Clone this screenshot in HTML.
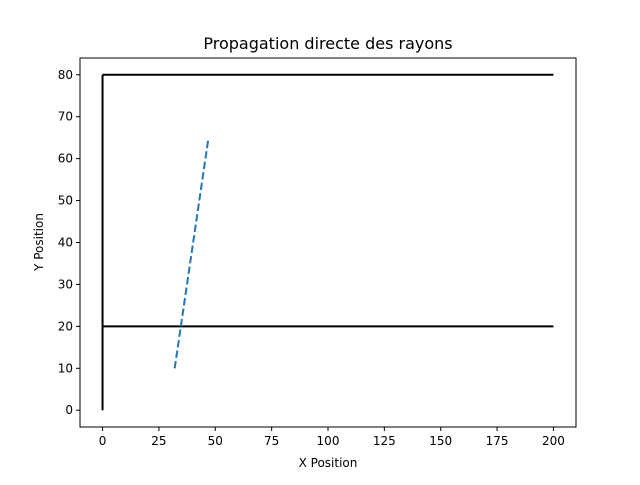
<!DOCTYPE html>
<html><head><meta charset="utf-8"><style>
html,body{margin:0;padding:0;background:#fff;}
svg text{font-family:"DejaVu Sans","Liberation Sans",sans-serif;fill:#000;}
</style></head><body>
<svg id="chart" width="640" height="480" xmlns="http://www.w3.org/2000/svg">
<rect width="640" height="480" fill="#fff"/>
<text x="328" y="49" font-size="16" text-anchor="middle">Propagation directe des rayons</text>
<g id="plot"></g>
<rect x="80" y="58" width="496" height="369" fill="none" stroke="#000" stroke-width="1"/>
<text x="328" y="467" font-size="12" text-anchor="middle">X Position</text>
<text transform="translate(43,242) rotate(-90)" font-size="12" text-anchor="middle">Y Position</text>
</svg>
<script>
const xTicks=[0,25,50,75,100,125,150,175,200];
const yTicks=[0,10,20,30,40,50,60,70,80];
const wallX=[0,0];const wallY=[0,80];
const topX=[0,200];const topY=[80,80];
const botX=[0,200];const botY=[20,20];
const rayX=[32,47];const rayY=[10,65];
const L=80,R=576,T=58,B=427,xmin=-10,xmax=210,ymin=-4,ymax=84;
const sx=v=>L+(v-xmin)/(xmax-xmin)*(R-L);
const sy=v=>B-(v-ymin)/(ymax-ymin)*(B-T);
const g=document.getElementById('plot');
const NS='http://www.w3.org/2000/svg';
function mk(t,a){const e=document.createElementNS(NS,t);for(const k in a)e.setAttribute(k,a[k]);g.appendChild(e);return e;}
xTicks.forEach(v=>{
 const l=mk('line',{x1:sx(v),x2:sx(v),y1:B,y2:B+4,stroke:'#000'});
 
 
 const t=mk('text',{x:sx(v),y:B+18,'font-size':12,'text-anchor':'middle'});t.textContent=v;
 
 
});
yTicks.forEach(v=>{
 const l=mk('line',{x1:L-4,x2:L,y1:sy(v),y2:sy(v),stroke:'#000'});
 
 
 const t=mk('text',{x:L-7,y:sy(v)+4,'font-size':12,'text-anchor':'end'});t.textContent=v;
 
 
});
function line(xs,ys,attrs,name){
 const p=mk('polyline',Object.assign({points:xs.map((x,i)=>sx(x)+','+sy(ys[i])).join(' '),fill:'none'},attrs));
 
 
}
line(wallX,wallY,{stroke:'#000','stroke-width':2},'wall-vertical');
line(topX,topY,{stroke:'#000','stroke-width':2},'wall-top');
line(botX,botY,{stroke:'#000','stroke-width':2},'wall-bottom');
line(rayX,rayY,{stroke:'#1f77b4','stroke-width':2,'stroke-dasharray':'7.4,3.2'},'ray-line');
</script>
</body></html>
